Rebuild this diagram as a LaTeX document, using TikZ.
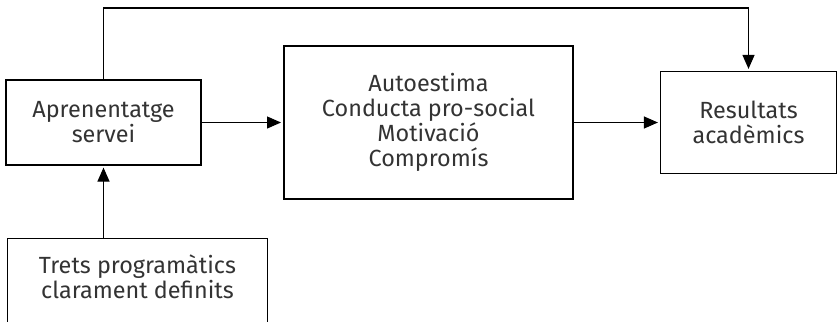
\documentclass[tikz,border=0pt]{standalone}
\usepackage{fontspec}
\setmainfont{Fira Sans}
\usepackage{tikz}
\usetikzlibrary{arrows.meta,positioning}

\begin{document}
\begin{tikzpicture}[x=0.5pt,y=-0.5pt,on grid,
	box/.style={draw,line width=0.6pt,align=center,text=black!80,font=\fontsize{11.7}{12.5}\selectfont},
	arr/.style={-{Triangle[length=7pt,width=6pt]},line width=0.6pt,shorten >=1pt}]
			\useasboundingbox (0,0) rectangle (838,321);
			\node[box,minimum width=97.5pt,minimum height=42.5pt] (apren) at (103.5,122.5) {Aprenentatge\\servei};
			\node[box,line width=1pt,minimum width=144.5pt,minimum height=76.5pt] (efectes) [right=162.5pt of apren] {Autoestima\\Conducta pro-social\\Motivació\\Compromís};
			\node[box,minimum width=88pt,minimum height=51pt] (result) [right=160pt of efectes] {Resultats\\acadèmics};
			\node[box,draw=none,minimum width=129.5pt,minimum height=37.5pt] (trets) at (137.5,276.5) {Trets programàtics\\clarament definits};
			\coordinate (top) at (0,8);
			% open frame at the bottom
			\draw[line width=0.6pt] ([yshift=-30pt]trets.south west) -- (trets.north west) -- (trets.north east) -- ([yshift=-30pt]trets.south east);
			\draw[arr] (apren) -- (efectes);
			\draw[arr] (efectes) -- (result);
			\draw[arr] (trets.north -| apren.south) -- (apren.south);
			\draw[arr] (apren.north) -- (apren.north |- top) -| (result.north);
		\end{tikzpicture}
\end{document}
